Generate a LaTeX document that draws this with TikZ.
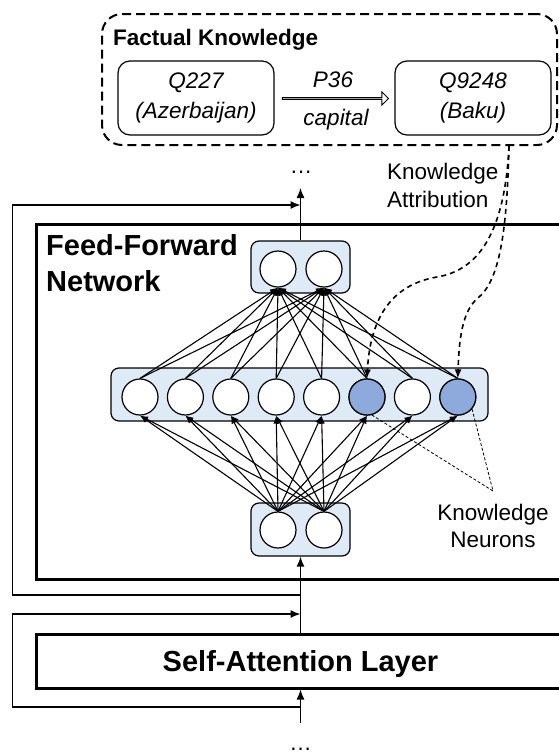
\documentclass[tikz,border=0pt]{standalone}
\usepackage{fontspec}
\setmainfont{Liberation Sans}
\usetikzlibrary{arrows.meta,calc,positioning,shapes.arrows}
\definecolor{CellBlue}{RGB}{222,234,246}
\definecolor{KnowBlue}{RGB}{142,169,219}
\newcommand{\txtsize}{\fontsize{22.5}{28}\selectfont}
\newcommand{\bigsize}{\fontsize{29}{36}\selectfont}

\begin{document}
\begin{tikzpicture}[x=1pt, y=-1pt,
  neuron/.style={circle, draw, line width=1.2pt, fill=white, minimum size=36pt, inner sep=0pt},
  layerbox/.style={draw, rounded corners=8pt, fill=CellBlue, line width=1.2pt, inner sep=0pt},
  bigbox/.style={draw, line width=3pt, inner sep=0pt, minimum width=529pt},
  entbox/.style={draw, rounded corners=12pt, line width=1.2pt, minimum width=156pt, minimum height=74pt,
    align=center, font=\fontsize{22.5}{30}\selectfont\itshape},
  link/.style={-{Latex[length=8pt,width=6pt]}, line width=1.1pt},
  flow/.style={-{Latex[length=10pt,width=8pt]}, line width=1.3pt},
  attr/.style={dash pattern=on 5pt off 4pt, line width=1.6pt, -{Latex[length=9pt,width=7pt]}},
  pointer/.style={dash pattern=on 3pt off 2pt, line width=0.8pt}
]
\clip (0,0) rectangle (559,756);

% factual knowledge
\node[draw, line width=2pt, dash pattern=on 9pt off 5pt, rounded corners=20pt,
  minimum width=455pt, minimum height=131pt] (fact) at (329.5,79.5) {};
\node[anchor=base west, inner sep=0pt, font=\txtsize\bfseries] (facttitle) at (113,45) {Factual Knowledge};
\node[entbox] (subj) at (196,98) {Q227\\(Azerbaijan)};
\node[entbox] (obj) at (473,98) {Q9248\\(Baku)};
\node[single arrow, draw, line width=1pt, fill=white, inner sep=0pt, minimum height=106pt,
  minimum width=13pt, single arrow head extend=3pt] (rel) at (335,98.5) {};
\node[anchor=base, inner sep=0pt, font=\txtsize\itshape] (relid) at (333,87) {P36};
\node[anchor=base, inner sep=0pt, font=\txtsize\itshape] (relname) at (336,125) {capital};

% layers
\node[bigbox, minimum height=355pt] (ffn) at (300.5,401.5) {};
\node[anchor=north west, align=left, inner sep=0pt, font=\bigsize\bfseries] (ffntitle) at (46,234) {Feed-Forward\\Network};
\node[bigbox, minimum height=54pt, text depth=0pt, font=\bigsize\bfseries] (att) at (300.5,661) {Self-Attention Layer};

\node[layerbox, minimum width=99pt, minimum height=52pt] (outbox) at (300.5,267) {};
\node[layerbox, minimum width=377pt, minimum height=53pt] (hidbox) at (299.5,394.5) {};
\node[layerbox, minimum width=99pt, minimum height=53pt] (inbox) at (300.5,529.5) {};

\node[neuron] (o1) at (278,269) {};
\node[neuron] (o2) at (324,269) {};
\node[neuron] (i1) at (278,530) {};
\node[neuron] (i2) at (324,530) {};
\foreach \i in {1,...,8}
  \node[neuron] (h\i) at ({140+45.4*(\i-1)},397) {};
\node[neuron, fill=KnowBlue] at (h6) {};
\node[neuron, fill=KnowBlue] at (h8) {};

\foreach \i in {1,...,8} {
  \foreach \j in {1,2} {
    \draw[link] (h\i.north) -- (o\j.south);
    \draw[link] (i\j.north) -- (h\i.south);
  }
}

% main stream and residuals
\coordinate (inp) at (300.5,723);
\coordinate (outp) at (300.5,188);
\coordinate (skipA) at (300.5,205);
\coordinate (forkA) at (300.5,595);
\coordinate (laneA) at (12.7,595);
\coordinate (skipB) at (300.5,614);
\coordinate (forkB) at (300.5,707);
\coordinate (laneB) at (12.7,707);
\draw[flow] (inp) -- (att.south);
\draw[flow] (att.north) -- (inbox.south);
\draw[flow] (outbox.north) -- (outp);
\draw[flow] (forkA) -- (laneA) |- (skipA);
\draw[flow] (forkB) -- (laneB) |- (skipB);
\node[inner sep=0pt, font=\txtsize] (dtop) at (301,172) {\ldots};
\node[inner sep=0pt, font=\txtsize] (dbot) at (300.5,749) {\ldots};

% attribution
\coordinate (src) at (509,146);
\draw[attr] (src) .. controls (505,230) and (480,270) .. (437,277)
  .. controls (390,285) and (370,320) .. (h6.north);
\draw[attr] (src) .. controls (507,230) and (500,280) .. (478,298)
  .. controls (462,311) and (459,340) .. (h8.north);
\node[anchor=north west, align=left, inner sep=0pt, font=\txtsize] (attrlabel) at (387,162.6) {Knowledge\\Attribution};

\coordinate (kn) at (493,491);
\draw[pointer] (h6.-75) -- (kn);
\draw[pointer] (h8.-40) -- (kn);
\node[anchor=north, align=center, inner sep=0pt, font=\fontsize{22.5}{27}\selectfont] (knlabel) at (493,503.6) {Knowledge\\Neurons};
\end{tikzpicture}
\end{document}
